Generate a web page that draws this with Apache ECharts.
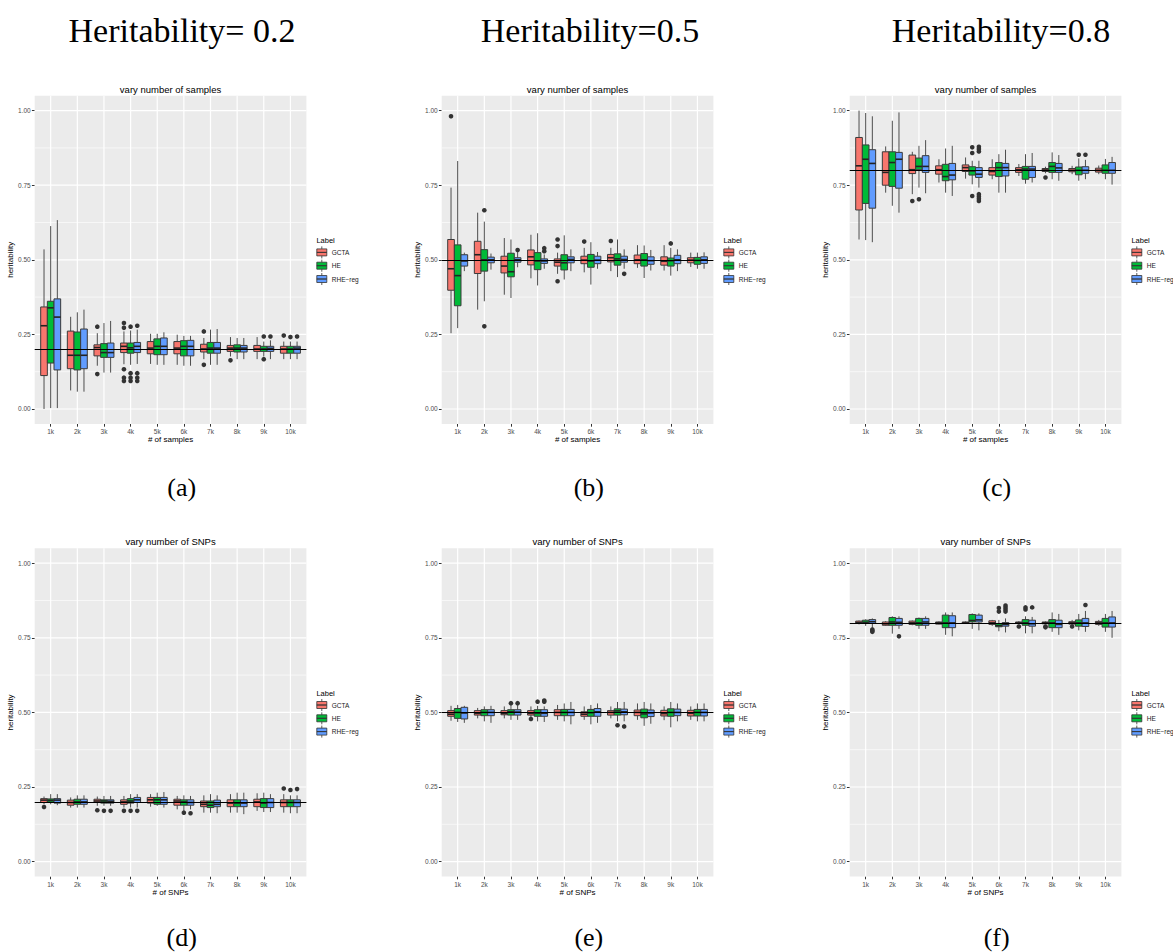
<!DOCTYPE html>
<html>
<head>
<meta charset="utf-8">
<script src="https://cdn.jsdelivr.net/npm/echarts@6/dist/echarts.min.js"></script>
<style>
  html, body { margin: 0; padding: 0; background: #ffffff; }
  #chart { width: 1173px; height: 952px; }
</style>
</head>
<body>
<div id="chart"></div>
<script>
// ---- categories, labels, ticks ----
const categories = ['1k', '2k', '3k', '4k', '5k', '6k', '7k', '8k', '9k', '10k'];
const labels = ['GCTA', 'HE', 'RHE\u2212reg'];
const yTicks = [0, 0.25, 0.5, 0.75, 1];
const yMinorGrid = [0.125, 0.375, 0.625, 0.875];
const xTicks = [1, 2, 3, 4, 5, 6, 7, 8, 9, 10];
const trueH = [0.2, 0.5, 0.8];

// ---- five-number summaries [min, Q1, median, Q3, max] per category ----
// vary number of samples, h = 0.2
const samples02GCTA = [[0.000,0.112,0.279,0.342,0.535],[0.062,0.135,0.180,0.261,0.309],[0.145,0.178,0.206,0.215,0.254],[0.150,0.189,0.210,0.221,0.260],[0.151,0.185,0.204,0.226,0.252],[0.148,0.185,0.204,0.226,0.249],[0.167,0.191,0.201,0.217,0.238],[0.176,0.193,0.204,0.213,0.241],[0.167,0.193,0.201,0.213,0.241],[0.167,0.187,0.201,0.210,0.226]];
const samples02HE   = [[0.003,0.154,0.339,0.361,0.613],[0.058,0.131,0.180,0.258,0.324],[0.122,0.173,0.189,0.219,0.288],[0.148,0.187,0.205,0.221,0.263],[0.148,0.182,0.210,0.235,0.252],[0.145,0.178,0.210,0.229,0.245],[0.148,0.187,0.204,0.223,0.266],[0.167,0.191,0.204,0.215,0.238],[0.176,0.193,0.201,0.210,0.226],[0.167,0.187,0.201,0.210,0.226]];
const samples02RHE  = [[0.003,0.131,0.308,0.369,0.633],[0.058,0.135,0.180,0.268,0.333],[0.122,0.173,0.189,0.221,0.295],[0.151,0.189,0.210,0.223,0.266],[0.148,0.182,0.210,0.238,0.257],[0.145,0.178,0.210,0.230,0.245],[0.148,0.187,0.204,0.223,0.268],[0.167,0.191,0.204,0.213,0.238],[0.167,0.193,0.203,0.210,0.230],[0.167,0.187,0.204,0.210,0.226]];
const samples02OutGCTA = [['3k',0.276],['3k',0.117],['4k',0.288],['4k',0.272],['4k',0.133],['4k',0.105],['4k',0.094],['7k',0.260],['7k',0.148],['8k',0.163],['10k',0.246]];
const samples02OutHE   = [['4k',0.276],['4k',0.120],['4k',0.105],['4k',0.094],['9k',0.243],['9k',0.167],['10k',0.241]];
const samples02OutRHE  = [['4k',0.279],['4k',0.120],['4k',0.105],['4k',0.094],['9k',0.243],['10k',0.243]];

// vary number of samples, h = 0.5
const samples05GCTA = [[0.254,0.398,0.470,0.568,0.742],[0.333,0.454,0.517,0.562,0.658],[0.383,0.456,0.479,0.512,0.573],[0.438,0.483,0.510,0.533,0.584],[0.453,0.479,0.492,0.503,0.524],[0.458,0.487,0.499,0.512,0.540],[0.462,0.493,0.507,0.518,0.540],[0.473,0.487,0.500,0.516,0.549],[0.464,0.482,0.495,0.510,0.549],[0.476,0.490,0.499,0.507,0.524]];
const samples05HE   = [[0.271,0.346,0.447,0.550,0.831],[0.361,0.462,0.500,0.534,0.628],[0.372,0.443,0.460,0.522,0.568],[0.414,0.467,0.496,0.524,0.589],[0.434,0.466,0.490,0.517,0.582],[0.417,0.475,0.496,0.518,0.559],[0.442,0.482,0.503,0.520,0.568],[0.439,0.479,0.500,0.521,0.548],[0.447,0.479,0.497,0.506,0.540],[0.470,0.485,0.498,0.508,0.524]];
const samples05RHE  = [[0.462,0.479,0.496,0.517,0.524],[0.467,0.490,0.500,0.509,0.521],[0.475,0.492,0.500,0.507,0.526],[0.470,0.488,0.496,0.503,0.518],[0.462,0.490,0.501,0.510,0.535],[0.470,0.487,0.499,0.512,0.526],[0.470,0.492,0.501,0.512,0.535],[0.464,0.485,0.497,0.510,0.533],[0.462,0.487,0.500,0.515,0.535],[0.470,0.488,0.500,0.510,0.525]];
const samples05OutGCTA = [['1k',0.981],['5k',0.568],['5k',0.546],['5k',0.428],['6k',0.561],['7k',0.563]];
const samples05OutHE   = [['2k',0.666],['2k',0.277],['9k',0.555]];
const samples05OutRHE  = [['3k',0.533],['4k',0.539],['4k',0.529],['7k',0.453]];

// vary number of samples, h = 0.8
const samples08GCTA = [[0.568,0.667,0.815,0.910,1.000],[0.725,0.750,0.793,0.862,0.880],[0.720,0.789,0.802,0.851,0.862],[0.759,0.787,0.802,0.815,0.837],[0.772,0.796,0.809,0.818,0.843],[0.770,0.784,0.796,0.809,0.837],[0.781,0.793,0.802,0.809,0.821],[0.790,0.796,0.801,0.806,0.812],[0.787,0.795,0.800,0.806,0.815],[0.787,0.794,0.800,0.807,0.816]];
const samples08HE   = [[0.566,0.689,0.837,0.885,0.992],[0.681,0.746,0.826,0.862,0.966],[0.742,0.802,0.813,0.841,0.882],[0.725,0.765,0.779,0.820,0.873],[0.753,0.784,0.798,0.812,0.832],[0.725,0.779,0.809,0.826,0.854],[0.755,0.770,0.804,0.813,0.854],[0.770,0.793,0.813,0.826,0.860],[0.765,0.785,0.800,0.811,0.840],[0.770,0.790,0.800,0.818,0.838]];
const samples08RHE  = [[0.559,0.673,0.823,0.869,0.981],[0.658,0.740,0.837,0.860,0.994],[0.723,0.793,0.813,0.849,0.901],[0.714,0.768,0.784,0.823,0.882],[0.742,0.776,0.787,0.809,0.832],[0.725,0.781,0.809,0.823,0.869],[0.759,0.776,0.804,0.813,0.858],[0.765,0.793,0.808,0.823,0.851],[0.770,0.790,0.800,0.812,0.835],[0.752,0.790,0.800,0.826,0.845]];
const samples08OutGCTA = [['3k',0.697],['8k',0.776]];
const samples08OutHE   = [['3k',0.703],['5k',0.877],['5k',0.858],['5k',0.714],['9k',0.852]];
const samples08OutRHE  = [['5k',0.879],['5k',0.871],['5k',0.863],['5k',0.720],['5k',0.712],['5k',0.705],['5k',0.697],['9k',0.852]];

// vary number of SNPs, h = 0.2
const snps02GCTA = [[0.192,0.198,0.206,0.211,0.218],[0.181,0.189,0.198,0.206,0.215],[0.187,0.198,0.203,0.209,0.218],[0.181,0.192,0.200,0.207,0.220],[0.184,0.196,0.207,0.215,0.226],[0.175,0.189,0.203,0.209,0.220],[0.164,0.184,0.192,0.203,0.222],[0.164,0.184,0.196,0.207,0.226],[0.170,0.184,0.200,0.209,0.229],[0.164,0.184,0.198,0.207,0.226]];
const snps02HE   = [[0.192,0.199,0.205,0.210,0.226],[0.181,0.192,0.200,0.209,0.222],[0.187,0.196,0.203,0.207,0.220],[0.181,0.196,0.203,0.211,0.226],[0.187,0.192,0.207,0.215,0.231],[0.170,0.189,0.200,0.207,0.222],[0.164,0.181,0.189,0.203,0.226],[0.164,0.184,0.196,0.207,0.231],[0.166,0.181,0.196,0.211,0.231],[0.162,0.184,0.198,0.207,0.222]];
const snps02RHE  = [[0.189,0.196,0.206,0.211,0.226],[0.181,0.192,0.200,0.209,0.222],[0.187,0.196,0.202,0.207,0.220],[0.181,0.198,0.207,0.215,0.226],[0.181,0.192,0.207,0.215,0.233],[0.175,0.189,0.198,0.207,0.220],[0.162,0.184,0.192,0.206,0.222],[0.159,0.184,0.196,0.207,0.231],[0.166,0.181,0.198,0.211,0.226],[0.162,0.184,0.198,0.207,0.222]];
const snps02OutGCTA = [['1k',0.183],['3k',0.172],['4k',0.170],['10k',0.245]];
const snps02OutHE   = [['3k',0.170],['4k',0.170],['6k',0.164],['10k',0.240]];
const snps02OutRHE  = [['3k',0.170],['4k',0.170],['6k',0.162],['10k',0.243]];

// vary number of SNPs, h = 0.5
const snps05GCTA = [[0.472,0.487,0.494,0.506,0.522],[0.480,0.491,0.497,0.506,0.515],[0.480,0.492,0.497,0.506,0.520],[0.480,0.491,0.497,0.506,0.520],[0.475,0.489,0.500,0.509,0.525],[0.475,0.487,0.494,0.502,0.520],[0.480,0.491,0.500,0.506,0.520],[0.475,0.489,0.500,0.508,0.530],[0.474,0.488,0.496,0.507,0.520],[0.475,0.488,0.497,0.507,0.520]];
const snps05HE   = [[0.468,0.480,0.500,0.513,0.525],[0.470,0.489,0.500,0.509,0.520],[0.475,0.491,0.502,0.509,0.525],[0.470,0.487,0.497,0.509,0.522],[0.470,0.489,0.500,0.510,0.530],[0.460,0.487,0.499,0.510,0.525],[0.470,0.491,0.505,0.512,0.535],[0.455,0.482,0.495,0.511,0.535],[0.450,0.487,0.500,0.512,0.535],[0.470,0.488,0.500,0.510,0.530]];
const snps05RHE  = [[0.465,0.478,0.498,0.517,0.522],[0.465,0.489,0.500,0.509,0.522],[0.475,0.491,0.501,0.509,0.525],[0.468,0.487,0.497,0.509,0.520],[0.460,0.489,0.500,0.510,0.535],[0.465,0.487,0.502,0.513,0.530],[0.470,0.492,0.502,0.511,0.535],[0.462,0.486,0.498,0.508,0.530],[0.470,0.489,0.500,0.511,0.530],[0.470,0.488,0.500,0.510,0.530]];
const snps05OutGCTA = [['4k',0.478]];
const snps05OutHE   = [['3k',0.531],['4k',0.536],['7k',0.457]];
const snps05OutRHE  = [['3k',0.531],['4k',0.540],['4k',0.536],['7k',0.453]];

// vary number of SNPs, h = 0.8
const snps08GCTA = [[0.795,0.798,0.801,0.806,0.808],[0.790,0.792,0.797,0.803,0.806],[0.792,0.795,0.800,0.806,0.808],[0.795,0.796,0.800,0.803,0.805],[0.797,0.798,0.800,0.803,0.805],[0.790,0.795,0.800,0.807,0.810],[0.795,0.798,0.800,0.803,0.806],[0.795,0.797,0.800,0.803,0.805],[0.790,0.796,0.800,0.804,0.810],[0.790,0.795,0.800,0.805,0.810]];
const snps08HE   = [[0.790,0.798,0.802,0.809,0.812],[0.764,0.792,0.803,0.818,0.822],[0.780,0.792,0.800,0.815,0.818],[0.760,0.784,0.800,0.826,0.835],[0.780,0.803,0.808,0.828,0.832],[0.772,0.787,0.791,0.798,0.810],[0.765,0.792,0.800,0.811,0.822],[0.770,0.784,0.800,0.811,0.835],[0.775,0.789,0.800,0.810,0.830],[0.770,0.786,0.800,0.815,0.830]];
const snps08RHE  = [[0.781,0.798,0.804,0.811,0.815],[0.780,0.792,0.802,0.815,0.822],[0.780,0.792,0.803,0.815,0.822],[0.755,0.784,0.800,0.824,0.835],[0.775,0.803,0.810,0.826,0.832],[0.768,0.789,0.795,0.801,0.815],[0.765,0.789,0.797,0.809,0.820],[0.760,0.784,0.795,0.809,0.830],[0.770,0.788,0.800,0.815,0.840],[0.750,0.786,0.800,0.820,0.840]];
const snps08OutGCTA = [['7k',0.788],['8k',0.788],['8k',0.785],['9k',0.788]];
const snps08OutHE   = [['6k',0.838],['6k',0.850],['7k',0.845],['7k',0.852]];
const snps08OutRHE  = [['1k',0.778],['1k',0.774],['1k',0.770],['2k',0.755],['6k',0.838],['6k',0.845],['6k',0.852],['6k',0.858],['7k',0.852],['9k',0.860]];

// ---- panel list (row-major) ----
const panels = [
  { boxes: [samples02GCTA, samples02HE, samples02RHE], outliers: [samples02OutGCTA, samples02OutHE, samples02OutRHE], h: trueH[0], title: 'vary number of samples', xName: '# of samples', tag: '(a)' },
  { boxes: [samples05GCTA, samples05HE, samples05RHE], outliers: [samples05OutGCTA, samples05OutHE, samples05OutRHE], h: trueH[1], title: 'vary number of samples', xName: '# of samples', tag: '(b)' },
  { boxes: [samples08GCTA, samples08HE, samples08RHE], outliers: [samples08OutGCTA, samples08OutHE, samples08OutRHE], h: trueH[2], title: 'vary number of samples', xName: '# of samples', tag: '(c)' },
  { boxes: [snps02GCTA, snps02HE, snps02RHE], outliers: [snps02OutGCTA, snps02OutHE, snps02OutRHE], h: trueH[0], title: 'vary number of SNPs', xName: '# of SNPs', tag: '(d)' },
  { boxes: [snps05GCTA, snps05HE, snps05RHE], outliers: [snps05OutGCTA, snps05OutHE, snps05OutRHE], h: trueH[1], title: 'vary number of SNPs', xName: '# of SNPs', tag: '(e)' },
  { boxes: [snps08GCTA, snps08HE, snps08RHE], outliers: [snps08OutGCTA, snps08OutHE, snps08OutRHE], h: trueH[2], title: 'vary number of SNPs', xName: '# of SNPs', tag: '(f)' }
];
const columnHeaders = ['Heritability= 0.2', 'Heritability=0.5', 'Heritability=0.8'];

// ---- layout & style ----
const COL_LEFT = [34.7, 441.7, 849.7];
const ROW_TOP = [95.7, 548.3];
const PANEL_W = 271.7;
const PANEL_H = 328.2;
const X_MIN = 0.4, X_MAX = 10.6;     // discrete scale with 0.6 padding on each side
const Y_MIN = -0.05, Y_MAX = 1.05;   // 5% expansion of [0, 1]
const FILLS = ['#F8766D', '#00BA38', '#619CFF'];
const DODGE = [-0.25, 0, 0.25];
const BOX_HALF = 0.125;
const SANS = "'Liberation Sans', Arial, Helvetica, sans-serif";
const SERIF = "'Liberation Serif', 'Times New Roman', serif";
const HEADER_X = [182, 590, 1001];
const TAG_X = [181.7, 588.8, 996.7];
const TAG_Y = [487, 937];

const catIndex = name => categories.indexOf(name) + 1;

function gridLineRows() {
  const rows = [];
  yMinorGrid.forEach(v => rows.push([1, v]));
  yTicks.forEach(v => rows.push([0, v]));
  xTicks.forEach(v => rows.push([2, v]));
  return rows;
}

function renderGridLine(params, api) {
  const kind = api.value(0), v = api.value(1);
  let p1, p2;
  if (kind === 2) { p1 = api.coord([v, Y_MIN]); p2 = api.coord([v, Y_MAX]); }
  else { p1 = api.coord([X_MIN, v]); p2 = api.coord([X_MAX, v]); }
  return {
    type: 'line', silent: true,
    shape: { x1: p1[0], y1: p1[1], x2: p2[0], y2: p2[1] },
    style: { stroke: '#ffffff', lineWidth: kind === 1 ? 0.6 : 1.2 }
  };
}

function boxRenderer(k) {
  return function (params, api) {
    const x = api.value(0) + DODGE[k];
    const lo = api.value(1), q1 = api.value(2), md = api.value(3), q3 = api.value(4), hi = api.value(5);
    const tl = api.coord([x - BOX_HALF, q3]);
    const br = api.coord([x + BOX_HALF, q1]);
    const top = api.coord([x, hi]), upper = api.coord([x, q3]);
    const lower = api.coord([x, q1]), bottom = api.coord([x, lo]);
    const mL = api.coord([x - BOX_HALF, md]), mR = api.coord([x + BOX_HALF, md]);
    const whisker = { stroke: '#4d4d4d', lineWidth: 1 };
    return {
      type: 'group', silent: true,
      children: [
        { type: 'line', shape: { x1: top[0], y1: top[1], x2: upper[0], y2: upper[1] }, style: whisker },
        { type: 'line', shape: { x1: lower[0], y1: lower[1], x2: bottom[0], y2: bottom[1] }, style: whisker },
        { type: 'rect', shape: { x: tl[0], y: tl[1], width: br[0] - tl[0], height: Math.max(br[1] - tl[1], 0.5) },
          style: { fill: FILLS[k], stroke: '#3a3a3a', lineWidth: 1 } },
        { type: 'line', shape: { x1: mL[0], y1: mL[1], x2: mR[0], y2: mR[1] }, style: { stroke: '#222222', lineWidth: 1.6 } }
      ]
    };
  };
}

function outlierRenderer(k) {
  return function (params, api) {
    const p = api.coord([api.value(0) + DODGE[k], api.value(1)]);
    return { type: 'circle', silent: true, shape: { cx: p[0], cy: p[1], r: 2.3 }, style: { fill: '#333333' } };
  };
}

const grids = [], xAxes = [], yAxes = [], series = [], legends = [], texts = [];

panels.forEach((p, i) => {
  const row = Math.floor(i / 3), col = i % 3;
  const left = COL_LEFT[col], top = ROW_TOP[row];

  grids.push({ left: left, top: top, width: PANEL_W, height: PANEL_H, show: true, backgroundColor: '#EBEBEB', borderWidth: 0, containLabel: false });

  xAxes.push({
    gridIndex: i, type: 'value', min: X_MIN, max: X_MAX, position: 'bottom',
    axisLine: { show: false, onZero: false },
    splitLine: { show: false },
    minorTick: { show: false },
    axisTick: { show: true, customValues: xTicks, length: 2.8, lineStyle: { color: '#333333', width: 1 } },
    axisLabel: { show: true, customValues: xTicks, formatter: v => categories[Math.round(v) - 1] || '', fontSize: 6.5, color: '#4D4D4D', fontFamily: SANS, margin: 4 },
    name: p.xName, nameLocation: 'middle', nameGap: 12,
    nameTextStyle: { fontSize: 8, color: '#000000', fontFamily: SANS }
  });

  yAxes.push({
    gridIndex: i, type: 'value', min: Y_MIN, max: Y_MAX, position: 'left',
    axisLine: { show: false, onZero: false },
    splitLine: { show: false },
    minorTick: { show: false },
    axisTick: { show: true, customValues: yTicks, length: 2.8, lineStyle: { color: '#333333', width: 1 } },
    axisLabel: { show: true, customValues: yTicks, formatter: v => v.toFixed(2), fontSize: 6.5, color: '#4D4D4D', fontFamily: SANS, margin: 4 },
    name: 'heritability', nameLocation: 'middle', nameGap: 19, nameRotate: 90,
    nameTextStyle: { fontSize: 8, color: '#000000', fontFamily: SANS }
  });

  // panel grid lines
  series.push({
    type: 'custom', xAxisIndex: i, yAxisIndex: i, z: 1, silent: true,
    renderItem: renderGridLine, data: gridLineRows(), encode: { x: 1, y: 1 }
  });

  // boxes, one series per method
  p.boxes.forEach((arr, k) => {
    series.push({
      type: 'custom', name: labels[k], xAxisIndex: i, yAxisIndex: i, z: 2,
      itemStyle: { color: FILLS[k] },
      renderItem: boxRenderer(k),
      data: arr.map((b, j) => [j + 1].concat(b)),
      encode: { x: 0, y: [1, 2, 3, 4, 5] }
    });
  });

  // outlying points
  p.outliers.forEach((arr, k) => {
    series.push({
      type: 'custom', xAxisIndex: i, yAxisIndex: i, z: 3,
      renderItem: outlierRenderer(k),
      data: arr.map(o => [catIndex(o[0]), o[1]]),
      encode: { x: 0, y: 1 }
    });
  });

  // true heritability reference line
  series.push({
    type: 'line', xAxisIndex: i, yAxisIndex: i, z: 4, data: [], silent: true,
    markLine: {
      silent: true, symbol: 'none', label: { show: false }, animation: false,
      lineStyle: { color: '#000000', width: 1.1, type: 'solid' },
      data: [{ yAxis: p.h }]
    }
  });

  legends.push({
    orient: 'vertical', left: left + PANEL_W + 10, top: top + PANEL_H / 2 - 13.8,
    padding: 0, itemWidth: 10, itemHeight: 12, itemGap: 0.5,
    icon: 'path://M5,0L5,2.5M0,2.5L10,2.5L10,6L0,6ZM0,6L10,6L10,9.5L0,9.5ZM5,9.5L5,12',
    itemStyle: { borderColor: '#333333', borderWidth: 0.8 },
    selectedMode: false,
    data: labels,
    textStyle: { fontSize: 6.5, color: '#1a1a1a', fontFamily: SANS }
  });

  // panel title and legend title
  texts.push({ type: 'text', x: left + PANEL_W / 2, y: top - 6.5, silent: true,
    style: { text: p.title, font: '9.5px ' + SANS, fill: '#000000', textAlign: 'center', align: 'center', textVerticalAlign: 'middle', verticalAlign: 'middle' } });
  texts.push({ type: 'text', x: left + PANEL_W + 10, y: top + PANEL_H / 2 - 19, silent: true,
    style: { text: 'Label', font: '7.5px ' + SANS, fill: '#000000', textAlign: 'left', align: 'left', textVerticalAlign: 'middle', verticalAlign: 'middle' } });
  // subfigure tag
  texts.push({ type: 'text', x: TAG_X[col], y: TAG_Y[row], silent: true,
    style: { text: p.tag, font: '26px ' + SERIF, fill: '#000000', textAlign: 'center', align: 'center', textVerticalAlign: 'middle', verticalAlign: 'middle' } });
});

columnHeaders.forEach((t, c) => {
  texts.push({ type: 'text', x: HEADER_X[c], y: 30, silent: true,
    style: { text: t, font: '34px ' + SERIF, fill: '#000000', textAlign: 'center', align: 'center', textVerticalAlign: 'middle', verticalAlign: 'middle' } });
});

const chart = echarts.init(document.getElementById('chart'), null, { renderer: 'svg' });
chart.setOption({
  animation: false,
  backgroundColor: '#ffffff',
  grid: grids,
  xAxis: xAxes,
  yAxis: yAxes,
  legend: legends,
  series: series,
  graphic: { elements: texts }
});
</script>
</body>
</html>
